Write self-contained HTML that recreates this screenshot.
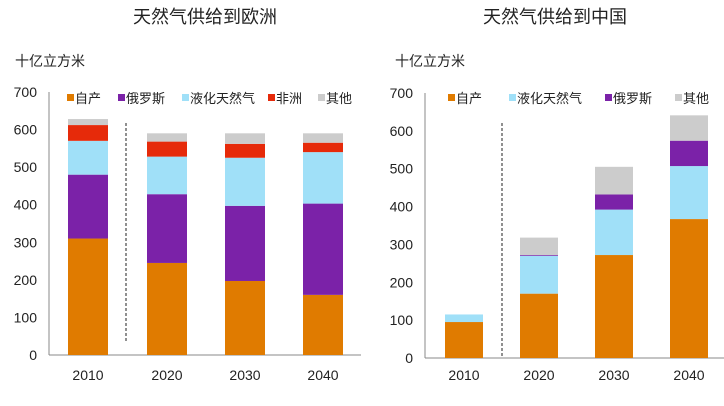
<!DOCTYPE html>
<html><head><meta charset="utf-8">
<style>
html,body{margin:0;padding:0;background:#fff;}
svg{display:block;font-family:"Liberation Sans","Noto Sans CJK SC",sans-serif;}
</style></head>
<body>
<svg id="c" width="724" height="406" viewBox="0 0 724 406">
<text x="205" y="23" font-size="18" text-anchor="middle" fill="#222">天然气供给到欧洲</text>
<text x="555" y="23" font-size="18" text-anchor="middle" fill="#222">天然气供给到中国</text>
<text x="15" y="66" font-size="14" fill="#222">十亿立方米</text>
<text x="395" y="66" font-size="14" fill="#222">十亿立方米</text>
</svg>
<script>
var years = ["2010","2020","2030","2040"];
var ticks = [0,100,200,300,400,500,600,700];
// Europe (stack segments)
var euNames = ["自产","俄罗斯","液化天然气","非洲","其他"];
var euColors = ["#E07B00","#7B22A8","#A0E0F8","#E62A0A","#CCCCCC"];
var euDomestic = [310,245,197,160];
var euRussia = [170,183,200,243];
var euLNG = [90,100,128,137];
var euAfrica = [42,40,37,25];
var euOther = [16,22,28,25];
// China
var cnNames = ["自产","液化天然气","俄罗斯","其他"];
var cnColors = ["#E07B00","#A0E0F8","#7B22A8","#CCCCCC"];
var cnDomestic = [95,170,272,367];
var cnLNG = [20,100,120,140];
var cnRussia = [0,2,40,67];
var cnOther = [0,46,73,67];

var svg = document.getElementById('c');
var NS = "http://www.w3.org/2000/svg";
function mk(tag, attrs){var e=document.createElementNS(NS,tag);for(var k in attrs)e.setAttribute(k,attrs[k]);svg.appendChild(e);return e;}

function drawChart(cfg){
  var y = function(v){return cfg.y0 - v*(cfg.y0-cfg.y700)/700;};
  var ax = mk('line',{x1:cfg.axisX,y1:cfg.y700,x2:cfg.axisX,y2:cfg.y0,stroke:'#888','stroke-width':1});
  
  
  var bx = mk('line',{x1:cfg.axisX,y1:cfg.y0,x2:cfg.axisEnd,y2:cfg.y0,stroke:'#888','stroke-width':1});
  
  
  ticks.forEach(function(t){
    var tl = mk('text',{x:cfg.axisX-12,y:y(t)+5,'font-size':14,'text-anchor':'end',fill:'#222'});
    tl.textContent = t;
    
    
  });
  var dl = mk('line',{x1:cfg.dashX,y1:123,x2:cfg.dashX,y2:cfg.dashEnd,stroke:'#222','stroke-width':1,'stroke-dasharray':'3,2'});
  
  
  years.forEach(function(yr,i){
    var cx = cfg.barX[i];
    var cum = 0;
    cfg.series.forEach(function(s,j){
      var v = s[i];
      if(v<=0){return;}
      var r = mk('rect',{x:cx,y:y(cum+v),width:cfg.barW,height:y(cum)-y(cum+v),fill:cfg.colors[j]});
      
      
      cum += v;
    });
    var xl = mk('text',{x:cx+cfg.barW/2,y:380,'font-size':14,'text-anchor':'middle',fill:'#222'});
    xl.textContent = yr;
    
    
  });
  cfg.names.forEach(function(n,j){
    var sq = mk('rect',{x:cfg.legX[j],y:94,width:7,height:7,fill:cfg.colors[j]});
    
    
    var lt = mk('text',{x:cfg.legX[j]+8,y:103,'font-size':13,fill:'#222'});
    lt.textContent = n;
    
    
  });
}
drawChart({id:'europe',y0:355,y700:92,axisX:49,axisEnd:361,dashX:126,dashEnd:341,
  barX:[68,147,225,303],barW:40,series:[euDomestic,euRussia,euLNG,euAfrica,euOther],
  colors:euColors,names:euNames,legX:[67,118,182,268,318]});
drawChart({id:'china',y0:358,y700:93,axisX:425,axisEnd:724,dashX:502,dashEnd:358,
  barX:[445,520,595,670],barW:38,series:[cnDomestic,cnLNG,cnRussia,cnOther],
  colors:cnColors,names:cnNames,legX:[448,509,605,675]});
</script>
</body></html>
